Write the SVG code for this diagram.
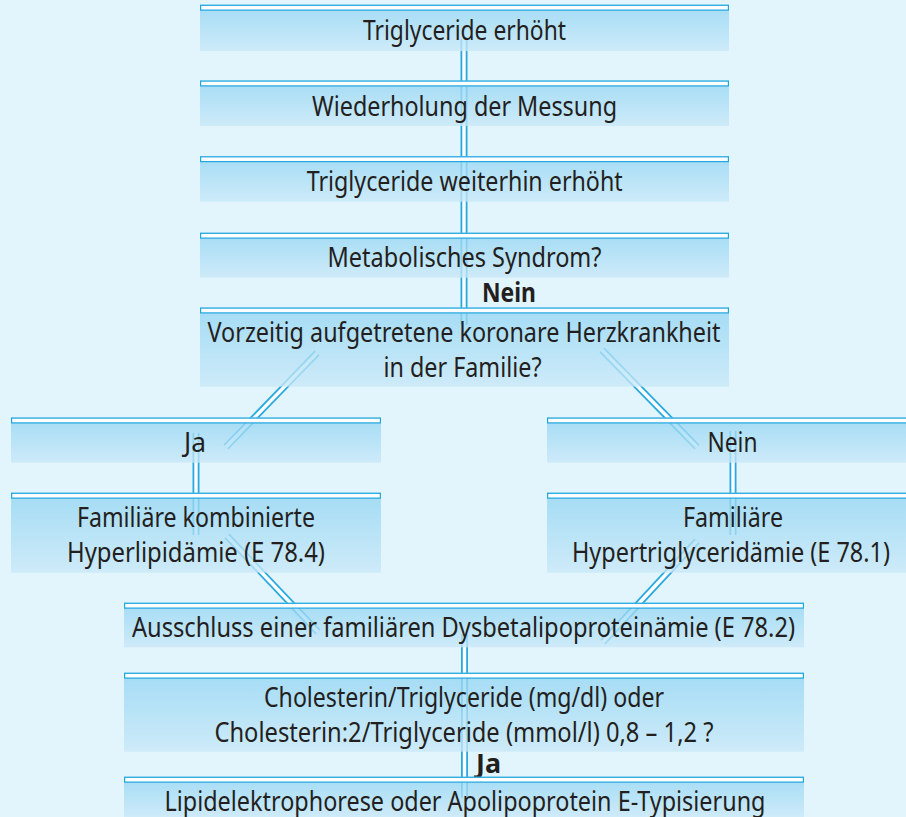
<svg xmlns="http://www.w3.org/2000/svg" width="906" height="817" viewBox="0 0 906 817">
<defs>
<linearGradient id="gf" x1="0" y1="0" x2="0" y2="1">
<stop offset="0" stop-color="#92d5f3"/>
<stop offset="1" stop-color="#c8e8f8"/>
</linearGradient>
</defs>
<style>
.bg{fill:#e2f4fc}
.fill{fill:url(#gf);fill-opacity:0.78}
.bar{fill:#ffffff;stroke:#1ea6df;stroke-width:1.2}
.t{font-family:"Noto Sans","Open Sans","Liberation Sans",sans-serif;font-size:28px;fill:#231f20;text-anchor:middle}
.b{font-weight:bold;text-anchor:start;font-size:27px}
.po{fill:none;stroke:#29a9e0;stroke-width:7}
.pi{fill:none;stroke:#ffffff;stroke-width:3.4}
</style>
<rect class="bg" x="0" y="0" width="906" height="817"/>
<g id="connectors">
<path class="po" d="M464 39V325"/><path class="pi" d="M464 39V325"/>
<path class="po" d="M317 353L226 447"/><path class="pi" d="M317 353L226 447"/>
<path class="po" d="M602 350L697 447"/><path class="pi" d="M602 350L697 447"/>
<path class="po" d="M196 433V535"/><path class="pi" d="M196 433V535"/>
<path class="po" d="M733 431V535"/><path class="pi" d="M733 431V535"/>
<path class="po" d="M227 536L318 632"/><path class="pi" d="M227 536L318 632"/>
<path class="po" d="M697 541L603 642"/><path class="pi" d="M697 541L603 642"/>
<path class="po" d="M464.5 634V798"/><path class="pi" d="M464.5 634V798"/>
</g>
<g id="n1"><rect class="fill" x="200" y="4.7" width="529" height="46.3"/><rect class="bar" x="200.6" y="5.3" width="527.8" height="4.8"/>
<text class="t" x="464.5" y="40" textLength="203" lengthAdjust="spacingAndGlyphs">Triglyceride erhöht</text></g>
<g id="n2"><rect class="fill" x="200" y="80.5" width="529" height="45.5"/><rect class="bar" x="200.6" y="81.1" width="527.8" height="4.8"/>
<text class="t" x="464.5" y="115.5" textLength="305" lengthAdjust="spacingAndGlyphs">Wiederholung der Messung</text></g>
<g id="n3"><rect class="fill" x="200" y="156.2" width="529" height="45.5"/><rect class="bar" x="200.6" y="156.8" width="527.8" height="4.8"/>
<text class="t" x="464.7" y="190.7" textLength="316" lengthAdjust="spacingAndGlyphs">Triglyceride weiterhin erhöht</text></g>
<g id="n4"><rect class="fill" x="200" y="232.7" width="529" height="45"/><rect class="bar" x="200.6" y="233.3" width="527.8" height="4.8"/>
<text class="t" x="464.5" y="267" textLength="274" lengthAdjust="spacingAndGlyphs">Metabolisches Syndrom?</text></g>
<g id="l1"><text class="t b" x="482" y="301.7" textLength="54" lengthAdjust="spacingAndGlyphs">Nein</text></g>
<g id="n5"><rect class="fill" x="200" y="307.5" width="529" height="79.2"/><rect class="bar" x="200.6" y="308.1" width="527.8" height="4.8"/>
<text class="t" x="464" y="341.7" textLength="513" lengthAdjust="spacingAndGlyphs">Vorzeitig aufgetretene koronare Herzkrankheit</text>
<text class="t" x="462.5" y="376.5" textLength="158" lengthAdjust="spacingAndGlyphs">in der Familie?</text></g>
<g id="nJa"><rect class="fill" x="11" y="417.5" width="370" height="45.2"/><rect class="bar" x="11.6" y="418.1" width="368.8" height="4.8"/>
<text class="t" x="195" y="451.7" textLength="22" lengthAdjust="spacingAndGlyphs">Ja</text></g>
<g id="nNein"><rect class="fill" x="547" y="417.5" width="370" height="45.2"/><rect class="bar" x="547.6" y="418.1" width="368.8" height="4.8"/>
<text class="t" x="732.5" y="451.7" textLength="50" lengthAdjust="spacingAndGlyphs">Nein</text></g>
<g id="nFamL"><rect class="fill" x="11" y="492.7" width="370" height="80"/><rect class="bar" x="11.6" y="493.3" width="368.8" height="4.8"/>
<text class="t" x="196" y="526.7" textLength="238" lengthAdjust="spacingAndGlyphs">Familiäre kombinierte</text>
<text class="t" x="196" y="561.7" textLength="258" lengthAdjust="spacingAndGlyphs">Hyperlipidämie (E 78.4)</text></g>
<g id="nFamR"><rect class="fill" x="547" y="492.7" width="370" height="80"/><rect class="bar" x="547.6" y="493.3" width="368.8" height="4.8"/>
<text class="t" x="733" y="526.7" textLength="100" lengthAdjust="spacingAndGlyphs">Familiäre</text>
<text class="t" x="731" y="561.7" textLength="318" lengthAdjust="spacingAndGlyphs">Hypertriglyceridämie (E 78.1)</text></g>
<g id="nAus"><rect class="fill" x="124" y="602.7" width="680" height="44.6"/><rect class="bar" x="124.6" y="603.3" width="678.8" height="4.8"/>
<text class="t" x="463.5" y="637.3" textLength="663" lengthAdjust="spacingAndGlyphs">Ausschluss einer familiären Dysbetalipoproteinämie (E 78.2)</text></g>
<g id="nChol"><rect class="fill" x="124" y="672.7" width="680" height="79"/><rect class="bar" x="124.6" y="673.3" width="678.8" height="4.8"/>
<text class="t" x="464" y="707" textLength="400" lengthAdjust="spacingAndGlyphs">Cholesterin/Triglyceride (mg/dl) oder</text>
<text class="t" x="464" y="741.7" textLength="499" lengthAdjust="spacingAndGlyphs">Cholesterin:2/Triglyceride (mmol/l) 0,8 – 1,2 ?</text></g>
<g id="l2"><text class="t b" x="476" y="772.7" textLength="25" lengthAdjust="spacingAndGlyphs">Ja</text></g>
<g id="nLip"><rect class="fill" x="124" y="776.7" width="680" height="40.3"/><rect class="bar" x="124.6" y="777.3" width="678.8" height="4.8"/>
<text class="t" x="465" y="810.7" textLength="601" lengthAdjust="spacingAndGlyphs">Lipidelektrophorese oder Apolipoprotein E-Typisierung</text></g>
</svg>
